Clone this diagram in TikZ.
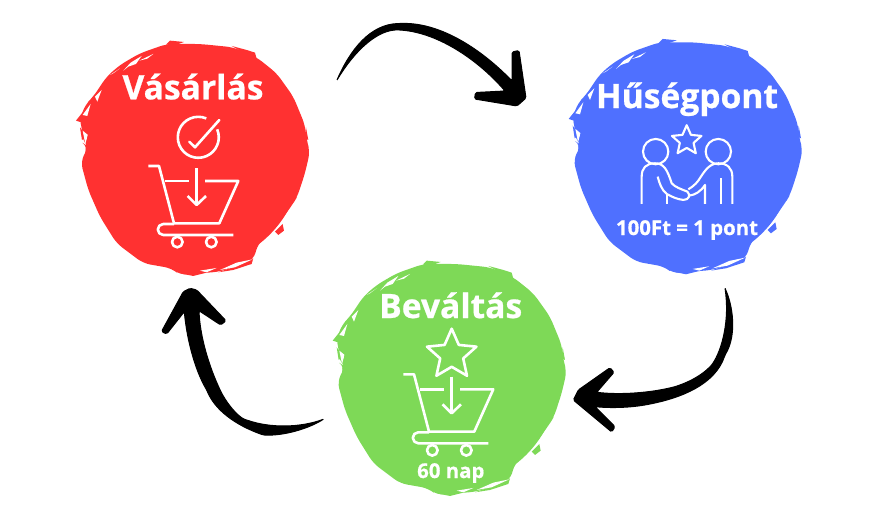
\documentclass[tikz,border=0pt]{standalone}
\usepackage{fontspec}
\setmainfont[BoldFeatures={FakeBold=0.7}]{Open Sans}
\usepackage{xcolor}
\usetikzlibrary{shapes.geometric}
\definecolor{buyred}{HTML}{FF3131}
\definecolor{pointblue}{HTML}{4F70FF}
\definecolor{redeemgreen}{HTML}{7ED957}
\tikzstyle{blobdisc}=[circle,minimum size=216pt,inner sep=0pt]
\tikzstyle{title}=[text=white,anchor=base,inner sep=0pt,font=\fontsize{33.6}{36}\selectfont\bfseries]
\tikzstyle{caption}=[text=white,anchor=base,inner sep=0pt,font=\fontsize{20.4}{24}\selectfont\bfseries]
\tikzstyle{icon}=[draw=white,line width=2.6pt,line join=round]
\tikzstyle{brush}=[fill=black,draw=black,line width=1pt,line join=round,rounded corners=1.5pt]
\tikzstyle{flake}=[fill=white]
\tikzstyle{starmark}=[star,star points=5,star point ratio=2.15,draw=white,line width=2.6pt,line join=round,inner sep=0pt]
\tikzset{pics/blob/.style={code={
  \begin{scope}[scale=1/3,shift={(-400,-355)}]
    \fill[#1,rounded corners=7pt] (320,12) -- (420,12) -- (520,22) -- (590,52) -- (650,100) -- (700,170) -- (735,255)
      -- (740,300) -- (750,335) -- (735,400) -- (712,470) -- (700,490) -- (650,560) -- (595,610) -- (580,660) -- (540,675)
      -- (480,695) -- (360,705) -- (335,685) -- (250,670) -- (170,610) -- (120,530) -- (85,450) -- (62,365) -- (85,320)
      -- (70,310) -- (65,260) -- (60,240) -- (75,195) -- (100,170) -- (140,110) -- (180,75) -- (240,40) -- cycle;
    % splinters outside the edge
    \fill[#1] (48,242) -- (72,212) -- (66,248) -- cycle;
    \fill[#1] (66,300) -- (60,262) -- (80,290) -- cycle;
    \fill[#1] (318,14) -- (330,2) -- (372,6) -- (345,16) -- cycle;
    \fill[#1] (515,18) -- (560,30) -- (585,38) -- (590,56) -- (565,46) -- cycle;
    \fill[#1] (738,262) -- (745,300) -- (735,295) -- cycle;
    \fill[#1] (475,697) -- (530,678) -- (580,655) -- (575,672) -- (520,690) -- cycle;
    \fill[#1] (360,700) -- (440,698) -- (400,708) -- cycle;
    % flakes of the brush edge
    \fill[flake] (190,92) -- (212,68) -- (245,48) -- (228,72) -- (205,80) -- cycle;
    \fill[flake] (238,62) -- (280,42) -- (262,56) -- cycle;
    \fill[flake] (115,252) -- (125,205) -- (160,186) -- (135,222) -- cycle;
    \fill[flake] (98,282) -- (104,240) -- (113,265) -- cycle;
    \fill[flake] (68,225) -- (92,192) -- (82,228) -- cycle;
    \fill[flake] (76,312) -- (68,272) -- (84,285) -- cycle;
    \fill[flake] (105,170) -- (125,150) -- (112,185) -- cycle;
    \fill[flake] (150,105) -- (180,85) -- (160,100) -- cycle;
    \fill[flake] (598,612) -- (640,585) -- (700,498) -- (690,540) -- (650,592) -- cycle;
    \fill[#1] (645,575) -- (668,552) -- (672,572) -- (655,585) -- cycle;
    \fill[flake] (480,690) -- (530,668) -- (578,658) -- (525,682) -- cycle;
    \fill[flake] (420,692) -- (470,684) -- (440,697) -- cycle;
  \end{scope}}}}
\tikzset{pics/cart/.style={code={
    \draw[icon] (0,0) -- (10.7,0) -- (25.7,57.3) -- (71,57.3) -- (90,15) -- (56.7,15);
    \draw[icon] (16.7,15) -- (41,15);
    \draw[icon] (85,69) -- (15,69) arc [start angle=90,end angle=270,radius=5.5] -- (25.7,58);
    \draw[icon] (29,76) circle [radius=5.3];
    \draw[icon] (63,76) circle [radius=5.3];
    \draw[icon] (48.3,2.3) -- (48.3,39);
    \draw[icon] (39.3,30) -- (48.3,39) -- (57.7,30);}}}

\begin{document}
\begin{tikzpicture}[x=1pt,y=-1pt]
    \useasboundingbox (0,0) rectangle (870,530);
    % First we draw the three blobs
    \foreach \pos/\name/\tint in {{(193.3,158.3)/vasarlas/buyred},
    {(686,156.6)/husegpont/pointblue}, {(450,378.3)/bevaltas/redeemgreen}}{
        \pic at \pos {blob=\tint};
        \node[blobdisc,fill=\tint] (\name) at \pos {};
    }

    % Then the texts
    \foreach \pos/\name/\label/\kind in {{(193,99.3)/vasarlastitle/Vásárlás/title},
    {(687,108)/husegponttitle/Hűségpont/title}, {(450.7,318)/bevaltastitle/Beváltás/title},
    {(687,235)/rate/100Ft = 1 pont/caption}, {(450.8,478)/days/60 nap/caption}}
        \node[\kind] (\name) at \pos {\label};

    % Icons
    \pic at (148.3,166) {cart};
    \pic at (403.3,374.3) {cart};
    \node[starmark,minimum size=52pt] (bigstar) at (451.7,354.7) {};
    \node[starmark,minimum size=31pt,line width=2.1pt] (smallstar) at (686.7,140.7) {};
    \coordinate (checkmark) at (198.3,137.3);
    \draw[icon] ([shift={(-23:20.5)}]checkmark) arc [start angle=-23,end angle=293,radius=20.5];
    \draw[icon,line cap=round] (189.3,141.7) -- (195,147.3) -- (219.3,120);

    % Two people shaking hands
    \begin{scope}[shift={(husegpont)},scale=1/3,shift={(-378,-320)},icon/.append style={line width=2.1pt}]
        \draw[icon] (287,305) circle [radius=38];
        \draw[icon] (475,305) circle [radius=38];
        \draw[icon] (245,462) -- (245,380) .. controls (245,355) and (258,340) .. (285,340)
            .. controls (312,340) and (322,360) .. (335,400) .. controls (345,412) and (365,418) .. (382,425)
            .. controls (392,435) and (388,450) .. (370,450) .. controls (350,448) and (335,440) .. (320,432)
            .. controls (305,420) and (298,400) .. (293,380);
        \draw[icon] (320,432) -- (320,462);
        \draw[icon] (517,462) -- (517,380) .. controls (517,355) and (502,340) .. (475,340)
            .. controls (445,340) and (430,370) .. (415,392) .. controls (405,405) and (395,412) .. (385,418);
        \draw[icon] (388,437) .. controls (405,435) and (422,425) .. (435,405) -- (435,462);
        \draw[icon] (483,385) -- (483,462);
    \end{scope}

    % Brush arrows between the blobs
    \coordinate (buyout) at (337,80);
    \coordinate (pointin) at (526,98);
    \coordinate (pointout) at (725,288.3);
    \coordinate (redeemin) at (573.3,400);
    \coordinate (redeemout) at (323.3,419.3);
    \coordinate (buyin) at (190,288.3);
    \fill[brush] (buyout) .. controls (350,50) and (370,24) .. (400,23.5) .. controls (445,22) and (488,56) .. (512,81)
        -- (512,52) -- (519,50.5) -- (pointin) -- (517,106) -- (474.5,99) -- (475.5,92.5) -- (505,91)
        .. controls (480,62) and (440,33) .. (400,30) .. controls (378,29) and (355,50) .. (buyout);
    \fill[brush] (pointout) .. controls (733,305) and (737,335) .. (725,355) .. controls (715,385) and (680,398) .. (650,404)
        .. controls (630,408) and (610,408) .. (595,406.7) -- (615,426.7) -- (611.7,432) -- (redeemin) -- (578.3,390)
        -- (610,367.7) -- (614,372.3) -- (596.7,392.3) .. controls (620,395) and (650,393) .. (675,386.7)
        .. controls (695,380) and (705,372) .. (711.7,365) .. controls (722,350) and (730,320) .. (pointout);
    \fill[brush] (redeemout) .. controls (310,428) and (285,436) .. (263.3,435) .. controls (235,425) and (215,410) .. (206.7,390)
        .. controls (195,370) and (187,340) .. (184.3,311.7) -- (166.7,334) -- (161.5,331.5) -- (183.3,291.7) -- (buyin)
        -- (196.7,290) -- (226,320.7) -- (220.7,325) -- (199,310.7) .. controls (200,335) and (208,365) .. (221.7,393.3)
        .. controls (230,408) and (240,418) .. (246.7,420) .. controls (270,428) and (300,428) .. (redeemout);
\end{tikzpicture}
\end{document}
